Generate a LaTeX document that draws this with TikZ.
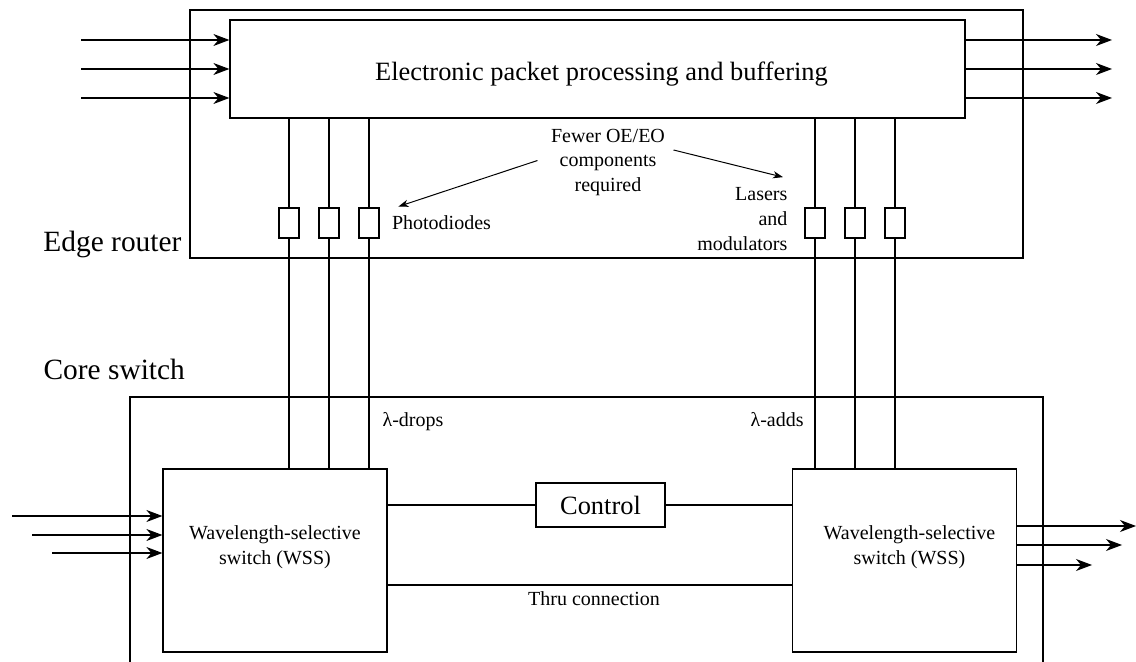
\documentclass[tikz,border=0pt]{standalone}
\usepackage{fontspec}
\setmainfont{Liberation Serif}
\usetikzlibrary{arrows.meta,positioning}

\tikzset{
  box/.style={draw, inner sep=0pt},
  arr/.style={-{Stealth[length=8pt,width=6pt,inset=2.5pt]}},
  thinarr/.style={-{Stealth[length=5pt,width=3.6pt,inset=1.5pt]}, line width=.5pt},
  lbl/.style={font=\fontsize{10}{12.3}\selectfont, inner sep=0pt, align=center},
  bigtxt/.style={font=\fontsize{13.2}{16}\selectfont, inner sep=0pt},
  tag/.style={font=\fontsize{14.7}{17}\selectfont, inner sep=0pt}
}

\begin{document}
\begin{tikzpicture}[x=.5pt,y=-.5pt,line width=.6pt]
\useasboundingbox (0,0) rectangle (1136,662);

      % edge router
      \draw (190,10) rectangle (1023,258);
      \node[box, minimum width=367.5pt, minimum height=49pt] (epp) at (597.5,69) {};
      \node[bigtxt, anchor=base] (epptxt) at (601.5,81) {Electronic packet processing and buffering};
      \node[tag, anchor=base east] (edge) at (182,252) {Edge router};
      \foreach \y [count=\i] in {40,69,98}
      { \path (81,\y) coordinate (in\i) (1112,\y) coordinate (out\i);
        \draw[arr] (in\i) -- (in\i -| epp.west);
        \draw[arr] (out\i -| epp.east) -- (out\i); }

      % core switch
      \draw (130,662) -- (130,397) -- (1043,397) -- (1043,662);
      \node[tag, anchor=base west] (core) at (43,380) {Core switch};
      \node[box, minimum width=112pt, minimum height=91.5pt] (wssL) at (275,560.5) {};
      \node[box, minimum width=112pt, minimum height=91.5pt] (wssR) at (904.5,560.5) {};
      \node[lbl] (wssLtxt) at (275,547) {Wavelength-selective\\switch (WSS)};
      \node[lbl] (wssRtxt) at (909.5,547) {Wavelength-selective\\switch (WSS)};

      % drops and adds
      \foreach \x [count=\i] in {289,329,369}
      { \node[box, minimum width=10pt, minimum height=15pt] (pd\i) at (\x,223) {};
        \draw (pd\i.north) -- (pd\i |- epp.south) (pd\i.south) -- (pd\i |- wssL.north); }
      \foreach \x [count=\i] in {815,855,895}
      { \node[box, minimum width=10pt, minimum height=15pt] (ld\i) at (\x,223) {};
        \draw (ld\i.north) -- (ld\i |- epp.south) (ld\i.south) -- (ld\i |- wssR.north); }
      \node[lbl, anchor=base west] (drops) at (382,427) {λ-drops};
      \node[lbl, anchor=base west] (adds) at (750,427) {λ-adds};

      % labels in the router
      \node[lbl] (fewer) at (608,162.5) {Fewer OE/EO\\components\\required};
      \node[lbl, anchor=base] (photo) at (441.5,230) {Photodiodes};
      \node[lbl, align=right, anchor=east] (lasers) at (788,219) {Lasers\\and\\modulators};
      \draw[thinarr] ([shift={(-13,-2)}]fewer.west) -- ([shift={(7,-9)}]photo.north west);
      \draw[thinarr] ([shift={(8,-12.5)}]fewer.east) -- ([shift={(-5,-10)}]lasers.north east);

      % wss in and out
      \foreach \x/\y [count=\i] in {12/516,32/535,52/553}
      { \path (\x,\y) coordinate (win\i); \draw[arr] (win\i) -- (win\i -| wssL.west); }
      \foreach \x/\y [count=\i] in {1136/526,1122/545,1092/565}
      { \path (\x,\y) coordinate (wout\i); \draw[arr] (wout\i -| wssR.east) -- (wout\i); }

      % control and thru
      \node[box, minimum width=64.5pt, minimum height=22pt, font=\fontsize{13.2}{16}\selectfont] (ctrl) at (600.5,505) {Control};
      \draw (ctrl.west) -- (ctrl.west -| wssL.east) (ctrl.east) -- (ctrl.east -| wssR.west);
      \coordinate (thru) at (590,585);
      \draw (thru -| wssL.east) -- (thru -| wssR.west);
      \node[lbl, anchor=base] (thrutxt) at (594,605) {Thru connection};
\end{tikzpicture}
\end{document}
